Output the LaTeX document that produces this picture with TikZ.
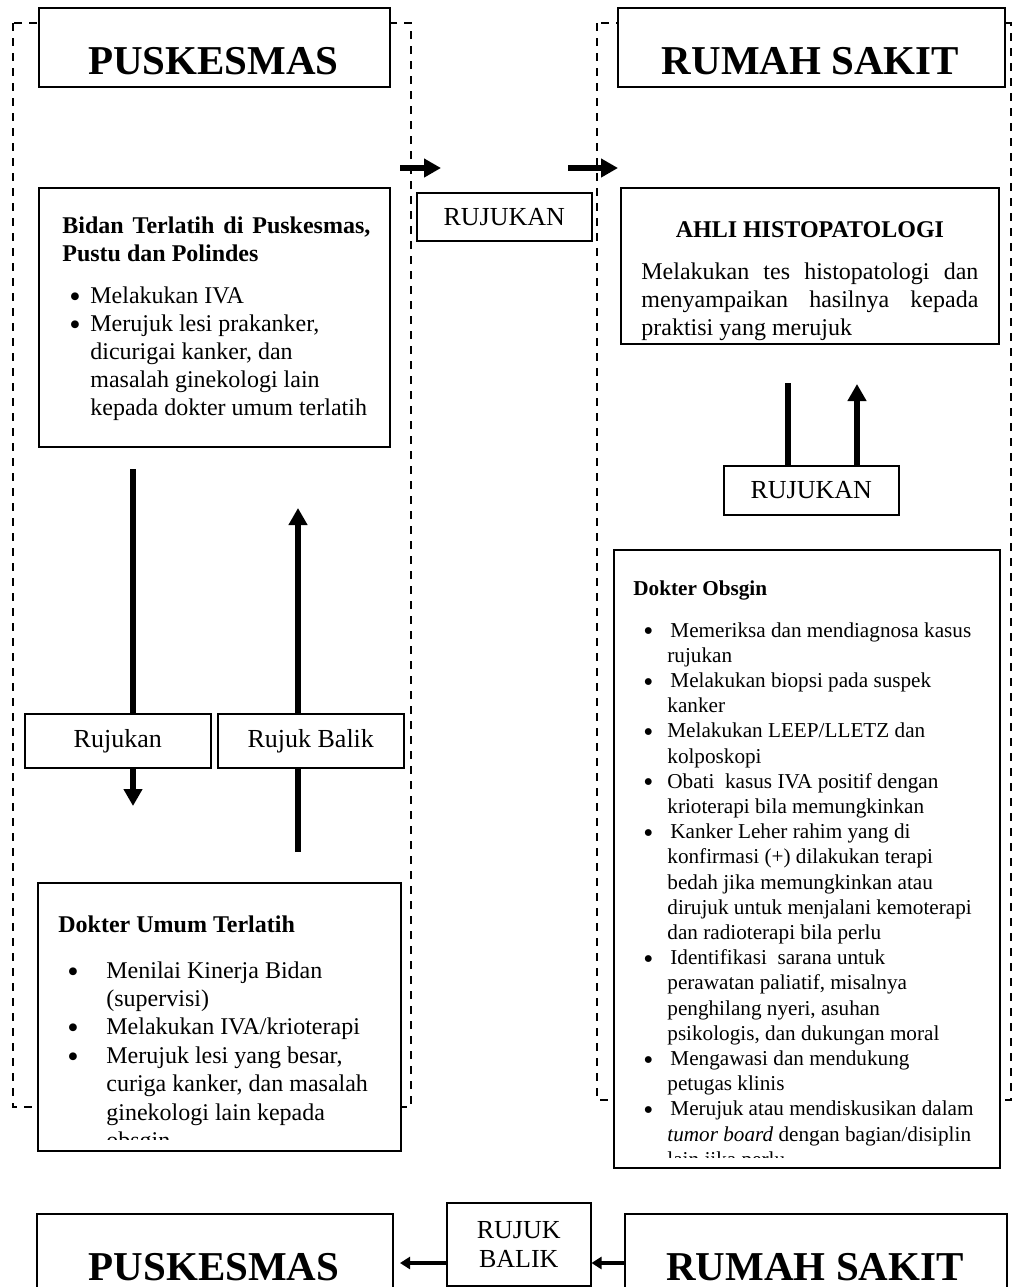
\documentclass[tikz,border=0pt]{standalone}
\usepackage{fontspec}
\usepackage{graphicx}
\setmainfont{Liberation Serif}
\usetikzlibrary{arrows.meta}
\newcommand{\bigdot}{\raisebox{-0.17em}{\scalebox{1.35}{\textbullet}}}
\newcommand{\bitem}[3]{\par\hangindent=#2\hangafter=1\noindent\makebox[#2][l]{\hspace*{#1}\bigdot}#3}
\begin{document}
\begin{tikzpicture}[x=0.5pt,y=-0.5pt,
  box/.style={draw,line width=0.75pt,fill=white,inner sep=0pt,anchor=north west},
  dashbox/.style={draw,line width=0.6pt,dash pattern=on 4pt off 3.5pt},
  lbl/.style={font=\fontsize{13}{14.5}\selectfont,align=center},
  bigtitle/.style={font=\fontsize{20.5}{24}\selectfont\bfseries,inner sep=0pt,anchor=base},
  txt/.style={inner sep=0pt,anchor=north west},
  bigline/.style={line width=3pt},
  bigarrow/.style={line width=3pt,-{Triangle[width=9pt,length=8.5pt]}},
  smallarrow/.style={line width=2pt,-{Triangle[width=6pt,length=5pt]}}]
\useasboundingbox (0,0) rectangle (1017,1287);
\clip (0,0) rectangle (1017,1287);

% dashed frames
\draw[dashbox] (13,23) rectangle (411,1107);
\draw[dashbox] (597,23) rectangle (1011,1100);

% top titles
\node[box,minimum width=175.5pt,minimum height=39.5pt] (pusTop) at (38,7) {};
\node[bigtitle] (pusTopT) at (213.5,74.5) {PUSKESMAS};
\node[box,minimum width=193.5pt,minimum height=39.5pt] (rsTop) at (617,7) {};
\node[bigtitle] (rsTopT) at (810.5,74.5) {RUMAH SAKIT};

% bidan box
\node[box,minimum width=175.5pt,minimum height=129.5pt] (bidan) at (38,187) {};
\node[txt] (bidanT) at (62,216) {\begin{minipage}[t]{170pt}\fontsize{12}{14}\selectfont\parskip=0pt
\makebox[154pt][s]{\bfseries Bidan Terlatih di Puskesmas,}\\
\textbf{Pustu dan Polindes}\par\vspace{7pt}
\bitem{3.5pt}{14pt}{Melakukan IVA}
\bitem{3.5pt}{14pt}{Merujuk lesi prakanker,\\dicurigai kanker, dan\\masalah ginekologi lain\\kepada dokter umum terlatih}
\end{minipage}};

% middle rujukan
\node[box,lbl,minimum width=87.5pt,minimum height=24pt] (rujTop) at (416,192) {RUJUKAN};

% ahli box
\node[box,minimum width=189pt,minimum height=78pt] (ahli) at (620,187) {};
\node[txt] (ahliT) at (641,221) {\begin{minipage}[t]{170pt}\fontsize{12}{14}\selectfont\parskip=0pt
\makebox[168.5pt][c]{\bfseries AHLI HISTOPATOLOGI}\par\vspace{7pt}
\makebox[168.5pt][s]{Melakukan tes histopatologi dan}\\
\makebox[168.5pt][s]{menyampaikan hasilnya kepada}\\
praktisi yang merujuk
\end{minipage}};

% left small label boxes
\node[box,lbl,minimum width=93pt,minimum height=27pt] (rujL) at (24,713) {Rujukan};
\node[box,lbl,minimum width=93pt,minimum height=27pt] (rbL) at (217,713) {Rujuk Balik};

% right rujukan
\node[box,lbl,minimum width=87.5pt,minimum height=24.5pt] (rujR) at (723,465) {RUJUKAN};

% dokter umum box
\node[box,minimum width=181.5pt,minimum height=134pt] (umum) at (37,882) {};
\begin{scope}
\clip (39,884) rectangle (398,1139);
\node[txt] (umumT) at (58,915) {\begin{minipage}[t]{170pt}\fontsize{12}{14.2}\selectfont\parskip=0pt
\textbf{Dokter Umum Terlatih}\par\vspace{8.8pt}
\bitem{4.5pt}{24pt}{Menilai Kinerja Bidan\\(supervisi)}
\bitem{4.5pt}{24pt}{Melakukan IVA/krioterapi}
\bitem{4.5pt}{24pt}{Merujuk lesi yang besar,\\curiga kanker, dan masalah\\ginekologi lain kepada\\obsgin}
\end{minipage}};
\end{scope}

% dokter obsgin box
\node[box,minimum width=193pt,minimum height=309pt] (obs) at (613,549) {};
\begin{scope}
\clip (615,551) rectangle (997,1157);
\node[txt] (obsT) at (633,580) {\begin{minipage}[t]{180pt}\fontsize{10.6}{12.6}\selectfont\parskip=0pt
\textbf{Dokter Obsgin}\par\vspace{8.4pt}
\bitem{5pt}{17pt}{\hspace{1.5pt}Memeriksa dan mendiagnosa kasus\\rujukan}
\bitem{5pt}{17pt}{\hspace{1.5pt}Melakukan biopsi pada suspek\\kanker}
\bitem{5pt}{17pt}{Melakukan LEEP/LLETZ dan\\kolposkopi}
\bitem{5pt}{17pt}{Obati~ kasus IVA positif dengan\\krioterapi bila memungkinkan}
\bitem{5pt}{17pt}{\hspace{1.5pt}Kanker Leher rahim yang di\\konfirmasi (+) dilakukan terapi\\bedah jika memungkinkan atau\\dirujuk untuk menjalani kemoterapi\\dan radioterapi bila perlu}
\bitem{5pt}{17pt}{\hspace{1.5pt}Identifikasi~ sarana untuk\\perawatan paliatif, misalnya\\penghilang nyeri, asuhan\\psikologis, dan dukungan moral}
\bitem{5pt}{17pt}{\hspace{1.5pt}Mengawasi dan mendukung\\petugas klinis}
\bitem{5pt}{17pt}{\hspace{1.5pt}Merujuk atau mendiskusikan dalam\\\textit{tumor board} dengan bagian/disiplin\\lain jika perlu}
\end{minipage}};
\end{scope}

% bottom row
\node[box,minimum width=178pt,minimum height=50pt] (pusBot) at (36,1213) {};
\node[bigtitle] (pusBotT) at (214,1280) {PUSKESMAS};
\node[box,lbl,minimum width=72pt,minimum height=41.5pt] (rbBot) at (446,1202) {RUJUK\\BALIK};
\node[box,minimum width=191pt,minimum height=50pt] (rsBot) at (624,1213) {};
\node[bigtitle] (rsBotT) at (815,1280) {RUMAH SAKIT};

% connectors
\coordinate (t1s) at (400,168);
\coordinate (t1e) at (441,168);
\coordinate (t2s) at (568,168);
\coordinate (t2e) at (618,168);
\draw[bigarrow] (t1s) -- (t1e);
\draw[bigarrow] (t2s) -- (t2e);

\coordinate (dL) at (133,469);
\coordinate (dLt) at (133,806);
\draw[bigline] (dL) -- (dL |- rujL.north);
\draw[bigarrow] (dLt |- rujL.south) -- (dLt);

\coordinate (uL) at (298,852);
\coordinate (uLt) at (298,508);
\draw[bigline] (uL) -- (uL |- rbL.south);
\draw[bigarrow] (uLt |- rbL.north) -- (uLt);

\coordinate (rl) at (788,383);
\coordinate (ra) at (857,384);
\draw[bigline] (rl) -- (rl |- rujR.north);
\draw[bigarrow] (ra |- rujR.north) -- (ra);

\coordinate (bl) at (400,1263);
\draw[smallarrow] (bl -| rbBot.west) -- (bl);
\draw[smallarrow] (rsBot.west |- bl) -- (rbBot.east |- bl);
\end{tikzpicture}
\end{document}
